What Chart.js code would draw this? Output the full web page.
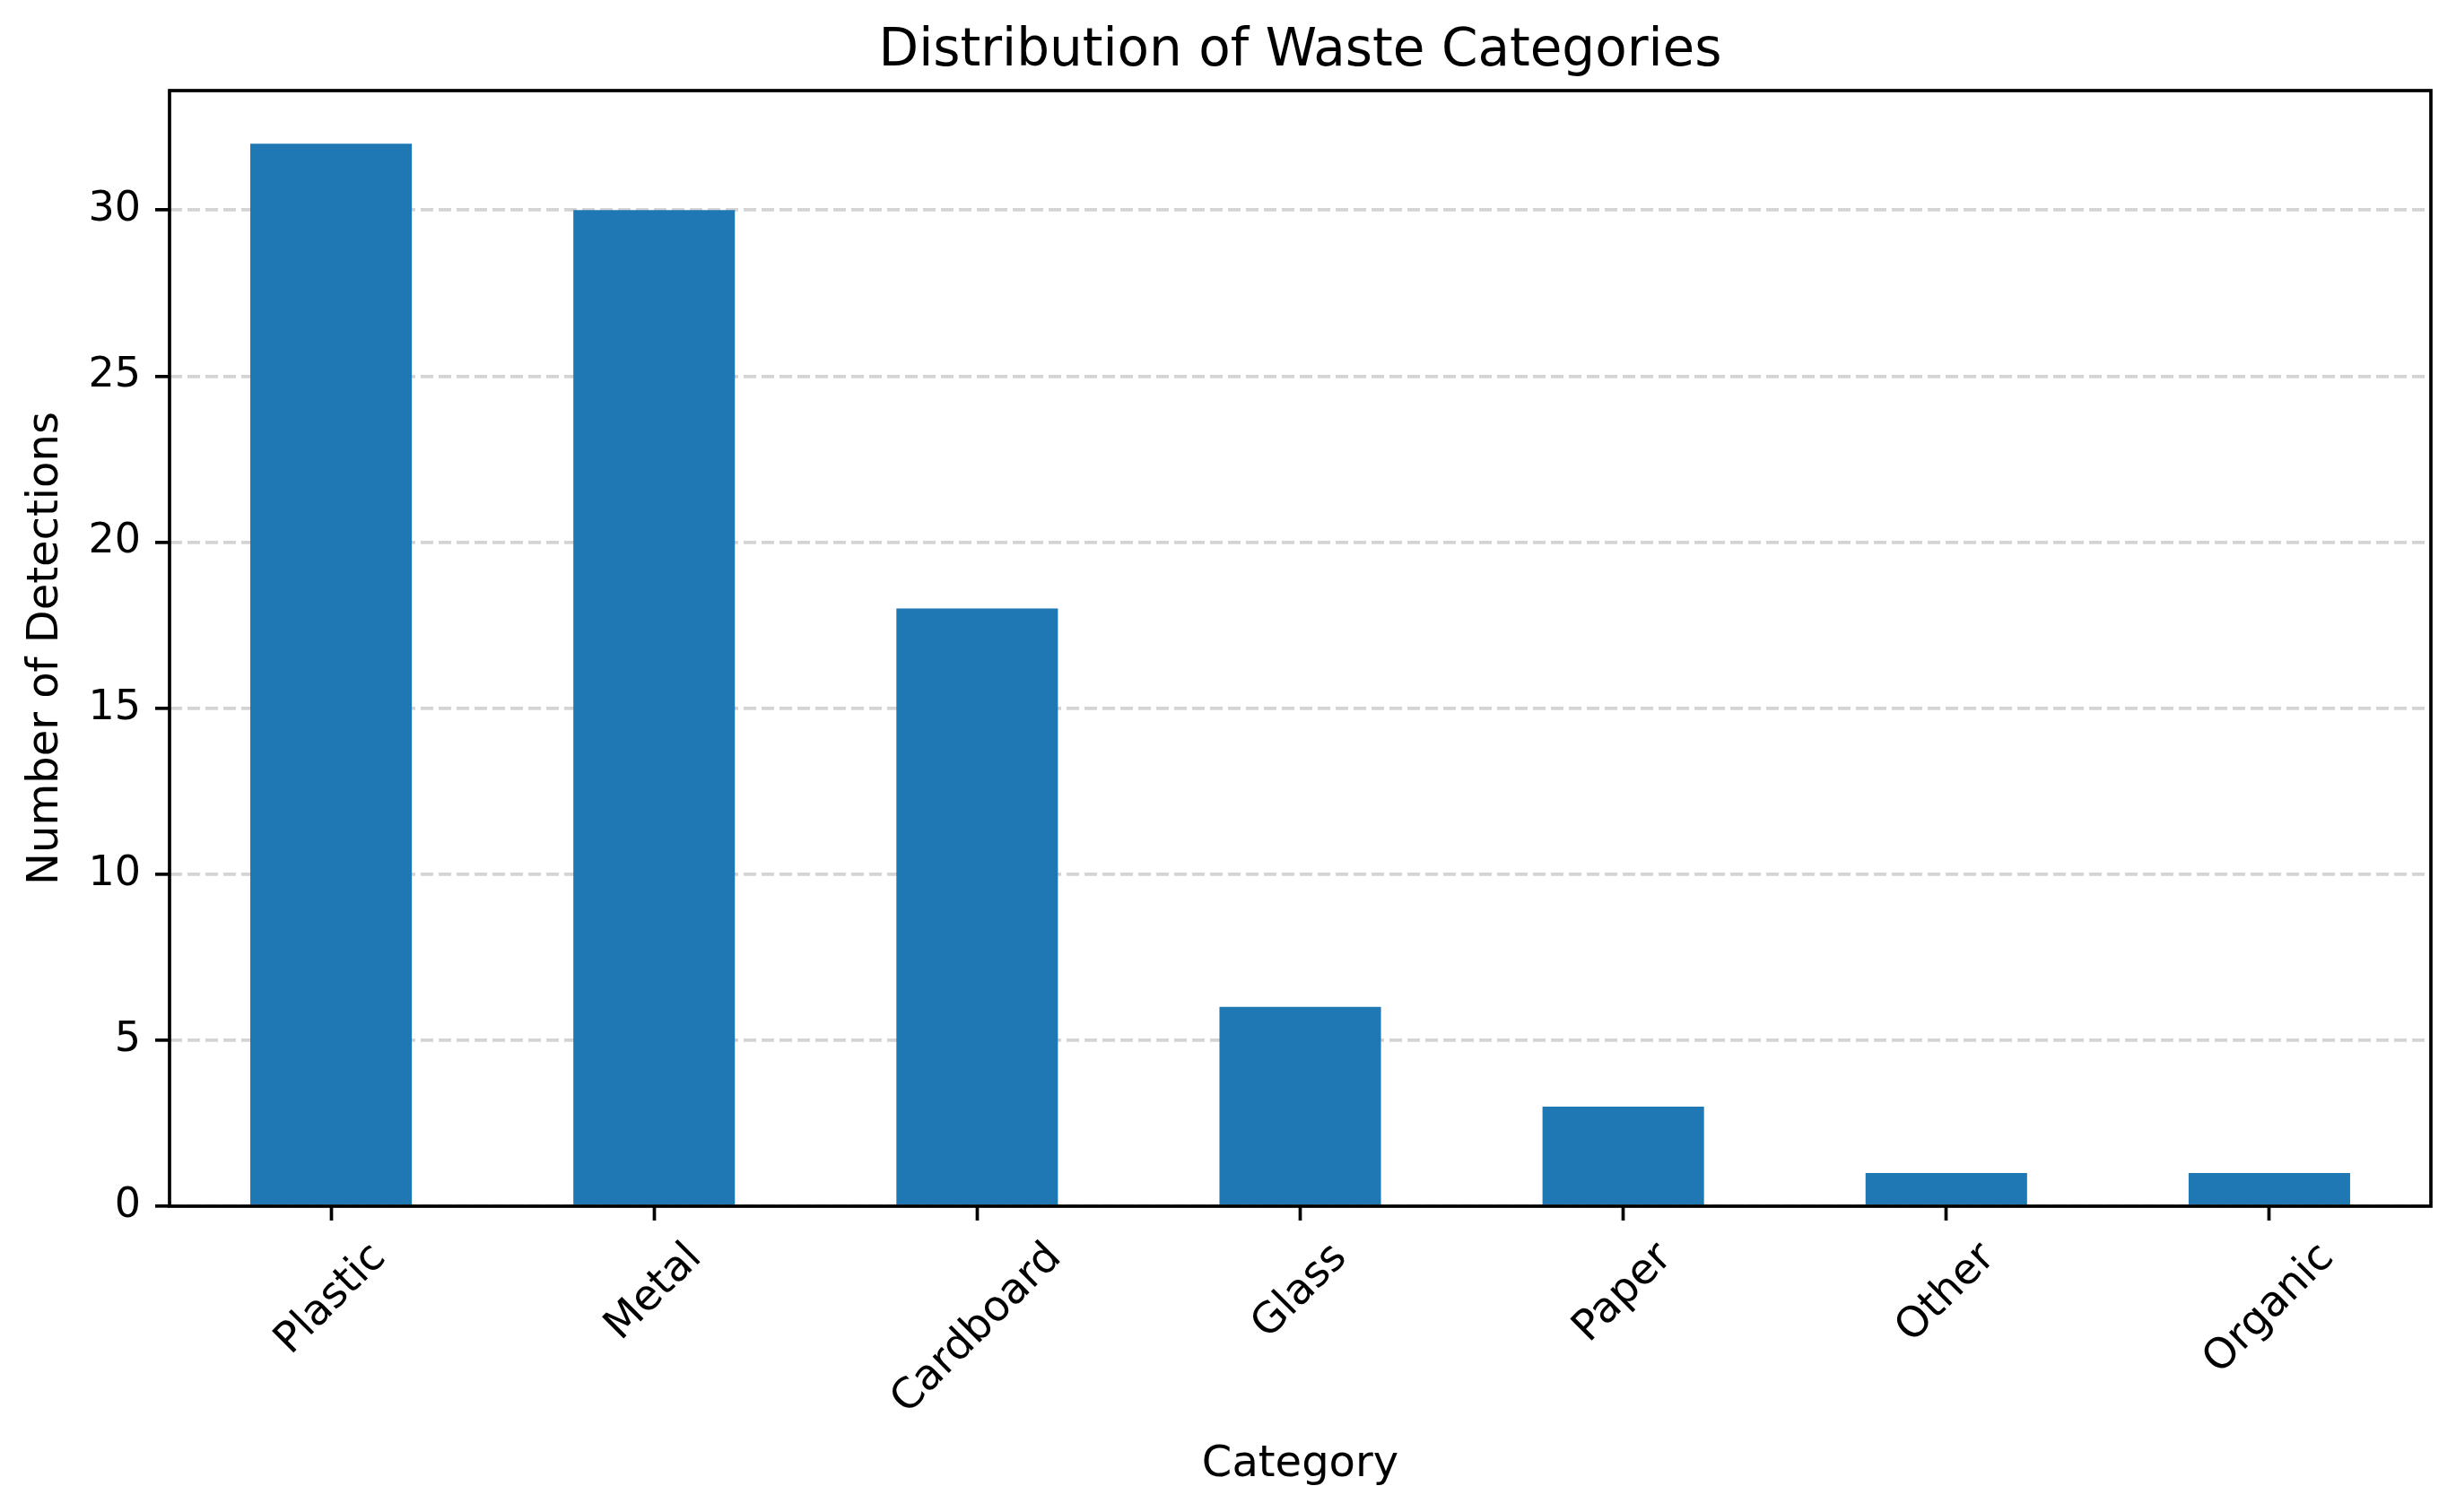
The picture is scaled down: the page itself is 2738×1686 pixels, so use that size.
<!DOCTYPE html>
<html><head><meta charset="utf-8">
<script src="https://cdn.jsdelivr.net/npm/chart.js@4.4.0/dist/chart.umd.min.js"></script>
<style>html,body{margin:0;padding:0;background:#fff;} canvas{display:block;}</style>
</head><body>
<canvas id="c" width="2738" height="1686" style="width:2738px;height:1686px"></canvas>
<script>
// ---- data ----
const categories = ['Plastic', 'Metal', 'Cardboard', 'Glass', 'Paper', 'Other', 'Organic'];
const detections = [32, 30, 18, 6, 3, 1, 1];
const yTickValues = [0, 5, 10, 15, 20, 25, 30];
const titleText = 'Distribution of Waste Categories';
const xAxisLabel = 'Category';
const yAxisLabel = 'Number of Detections';

// ---- style ----
const FONT = "'DejaVu Sans', sans-serif";
const LW = 3.7;
const TICK_FS = 46;
const XTICK_FS = 47;
const LABEL_FS = 48;
const TICK_LEN = 16;
const TICK_PAD = 16;

const framePlugin = {
  id: 'frame',
  afterDraw(chart) {
    const {ctx, chartArea: a} = chart;
    ctx.save();
    ctx.strokeStyle = '#000';
    ctx.lineWidth = LW;
    ctx.strokeRect(a.left, a.top, a.right - a.left, a.bottom - a.top);
    ctx.restore();
  }
};

const rotatedXLabels = {
  id: 'rotX',
  afterDraw(chart) {
    const xs = chart.scales.x;
    const ctx = chart.ctx;
    ctx.save();
    ctx.font = XTICK_FS + 'px ' + FONT;
    ctx.fillStyle = '#000';
    const top = xs.top + TICK_LEN + TICK_PAD;
    const h = 1.1 * XTICK_FS;
    xs.ticks.forEach((t, i) => {
      const label = xs.getLabelForValue(t.value);
      const w = ctx.measureText(label).width;
      const side = (w + h) / Math.SQRT2;
      const cx = xs.getPixelForTick(i);
      const cy = top + side / 2;
      ctx.save();
      ctx.translate(cx, cy);
      ctx.rotate(-Math.PI / 4);
      ctx.textAlign = 'center';
      ctx.textBaseline = 'alphabetic';
      ctx.fillText(label, 0, 0.26 * XTICK_FS);
      ctx.restore();
    });
    ctx.restore();
  }
};

new Chart(document.getElementById('c'), {
  type: 'bar',
  data: {
    labels: categories,
    datasets: [{
      data: detections,
      backgroundColor: '#1f77b4',
      borderWidth: 0,
      barPercentage: 0.5,
      categoryPercentage: 1.0
    }]
  },
  options: {
    responsive: false,
    animation: false,
    devicePixelRatio: 1,
    layout: {padding: {left: 0, right: 28, top: 0, bottom: 0}},
    plugins: {
      legend: {display: false},
      tooltip: {enabled: false},
      title: {
        display: true,
        text: titleText,
        color: '#000',
        font: {family: FONT, size: 58, weight: 'normal', lineHeight: 1.2},
        padding: {top: 23, bottom: 8.4},
        fullSize: false
      }
    },
    scales: {
      x: {
        offset: true,
        grid: {
          display: true,
          offset: false,
          drawOnChartArea: false,
          drawTicks: true,
          tickLength: TICK_LEN,
          tickColor: '#000',
          tickWidth: LW
        },
        border: {display: false},
        ticks: {display: false},
        title: {
          display: true,
          text: xAxisLabel,
          color: '#000',
          font: {family: FONT, size: LABEL_FS, weight: 'normal'},
          padding: {top: 0, bottom: 24}
        },
        afterFit(scale) { scale.height = 341; }
      },
      y: {
        min: 0,
        max: 33.6,
        z: 1,
        afterBuildTicks(scale) { scale.ticks = yTickValues.map(v => ({value: v})); },
        grid: {
          display: true,
          drawOnChartArea: true,
          drawTicks: true,
          color: 'rgba(176,176,176,0.55)',
          lineWidth: LW,
          tickLength: TICK_LEN,
          tickColor: '#000',
          tickWidth: LW,
          tickBorderDash: []
        },
        border: {display: false, dash: [14, 6]},
        ticks: {
          color: '#000',
          font: {family: FONT, size: TICK_FS, weight: 'normal'},
          padding: TICK_PAD
        },
        title: {
          display: true,
          text: yAxisLabel,
          color: '#000',
          font: {family: FONT, size: LABEL_FS, weight: 'normal'},
          padding: {top: 23, bottom: 0}
        },
        afterFit(scale) { scale.width = 189; }
      }
    }
  },
  plugins: [rotatedXLabels, framePlugin]
});
</script>
</body></html>
